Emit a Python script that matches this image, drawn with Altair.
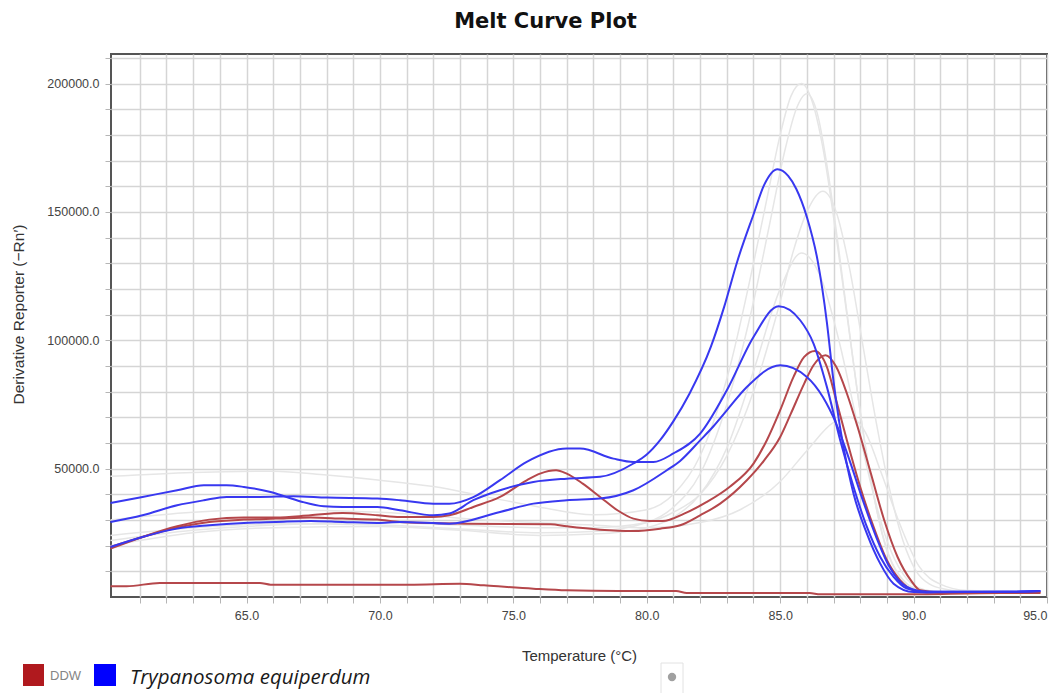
import altair as alt
import pandas as pd

# ---------------- data ----------------
blue_a_t = [59.9, 61.1, 62.4, 63.4, 64.25, 64.9, 65.9, 66.5, 67.1, 67.9, 68.6, 69.9, 70.75, 72.0, 72.6, 73.5, 74.5, 75.75, 77.0, 78.25, 79.5, 80.0, 80.5, 81.0, 81.6, 82.4, 82.9, 83.4, 84.0, 84.4, 84.9, 85.3, 85.6, 86.0, 86.4, 86.75, 87.0, 87.2, 87.4, 87.75, 88.25, 88.75, 89.25, 90.0, 90.5, 92.0, 93.5, 94.75]
blue_a_v = [36600, 38980, 41570, 43520, 43520, 42870, 40920, 38980, 37030, 35340, 35080, 35080, 33800, 31800, 32500, 37700, 41600, 44800, 46100, 46800, 52000, 55500, 61100, 68500, 79200, 97400, 113000, 131000, 149000, 160500, 166600, 164000, 159000, 148000, 131200, 107000, 84000, 69000, 57000, 40200, 24700, 13000, 5200, 1900, 1800, 1900, 2000, 2300]

blue_b_t = [59.9, 61.1, 62.4, 63.4, 64.25, 65.5, 66.75, 68.0, 69.9, 70.75, 72.0, 72.6, 73.5, 74.5, 75.5, 77.0, 77.5, 78.75, 79.5, 80.25, 81.0, 82.0, 83.0, 84.0, 84.94, 85.75, 86.25, 86.75, 87.25, 87.75, 88.25, 88.75, 89.25, 89.75, 90.5, 92.0, 93.5, 94.75]
blue_b_v = [29220, 31820, 35720, 37670, 38980, 38980, 39240, 38720, 38330, 37700, 36300, 36300, 38900, 45500, 52600, 57800, 57800, 53900, 52600, 52600, 55900, 63600, 80500, 101300, 113260, 107800, 98700, 81840, 61060, 42870, 27280, 15590, 7800, 3250, 2000, 2000, 2000, 2300]

blue_c_t = [59.9, 61.1, 62.4, 63.6, 64.9, 66.1, 67.4, 68.6, 69.9, 70.75, 72.6, 74.5, 75.75, 77.0, 78.25, 79.5, 80.75, 81.25, 82.0, 82.5, 83.0, 83.75, 85.0, 86.0, 86.6, 87.1, 87.6, 88.1, 88.6, 89.1, 89.75, 90.5, 92.0, 93.5, 94.75]
blue_c_v = [19480, 23380, 26630, 27930, 28840, 29220, 29610, 29220, 28840, 29220, 28570, 33120, 36370, 37670, 38330, 41570, 49360, 53000, 61000, 66500, 72700, 81800, 90270, 85720, 77920, 67530, 53240, 37650, 23360, 11670, 3900, 2000, 2000, 2000, 2300]

red_a_t = [59.9, 61.1, 62.4, 63.6, 64.9, 66.1, 67.4, 68.6, 69.9, 70.75, 72.0, 72.6, 73.5, 74.5, 75.5, 76.0, 76.6, 77.0, 77.6, 78.25, 78.9, 79.5, 80.1, 80.6, 81.4, 82.25, 83.1, 84.0, 84.5, 85.0, 85.5, 85.9, 86.3, 86.75, 87.1, 87.5, 88.0, 88.5, 89.0, 89.5, 90.0, 90.5, 92.0, 94.75]
red_a_v = [18850, 23380, 27540, 30140, 30920, 30920, 31830, 32740, 31830, 31170, 31170, 31820, 35080, 38980, 45470, 48070, 49370, 48070, 44170, 38980, 33780, 30530, 29620, 29620, 32480, 37030, 42870, 51970, 61060, 72760, 85720, 93500, 95840, 89660, 76670, 61060, 42870, 27280, 14290, 6490, 2600, 1800, 1800, 1800]

red_b_t = [59.9, 62.4, 63.6, 64.9, 66.1, 67.4, 68.6, 69.9, 70.75, 73.25, 76.4, 77.0, 78.25, 79.5, 80.5, 81.25, 82.0, 82.75, 83.75, 84.4, 85.0, 85.4, 85.9, 86.25, 86.7, 87.1, 87.5, 87.9, 88.4, 88.9, 89.4, 89.9, 90.25, 91.0, 92.5, 94.75]
red_b_v = [19480, 27010, 29220, 30140, 30530, 30920, 30530, 30140, 29220, 28570, 28310, 27530, 26230, 25720, 26620, 27920, 31820, 36360, 45450, 53240, 62340, 71430, 83120, 90270, 94170, 89660, 79270, 66280, 48090, 29900, 15590, 6490, 2600, 1800, 1800, 1800]

red_c_t = [59.9, 60.5, 61.75, 65.5, 65.9, 71.1, 73.0, 73.9, 75.75, 77.0, 78.9, 81.1, 81.5, 86.1, 86.5, 89.5, 93.25, 94.75]
red_c_v = [4170, 4170, 5470, 5470, 4820, 4820, 5200, 4550, 3250, 2600, 2340, 2340, 1560, 1560, 1040, 1040, 1560, 1560]

gray_a_t = [59.9, 63, 66, 68, 70, 72, 74, 76, 78, 80, 81, 82, 83, 84, 84.5, 85, 85.4, 85.8, 86.2, 86.6, 87, 87.5, 88, 88.5, 89, 89.5, 90, 90.5, 91, 94.75]
gray_a_v = [47000, 48500, 49000, 47500, 45500, 43000, 39000, 35000, 32000, 34000, 40000, 55000, 85000, 130000, 155000, 180000, 195000, 200000, 193000, 175000, 148000, 110000, 72000, 40000, 18000, 8000, 3500, 2500, 2000, 2000]

gray_b_t = [59.9, 63, 66, 70, 73, 76, 78, 80, 81, 82, 83, 84, 84.6, 85.2, 85.6, 86.0, 86.4, 86.8, 87.2, 87.7, 88.2, 88.7, 89.2, 89.7, 90.2, 91, 94.75]
gray_b_v = [24000, 27000, 28500, 28000, 26500, 25000, 25500, 29000, 35000, 48000, 75000, 115000, 145000, 175000, 190000, 196000, 188000, 165000, 135000, 95000, 58000, 30000, 13000, 5500, 3000, 2000, 2000]

gray_c_t = [59.9, 63, 66, 70, 73, 76, 78, 80, 81, 82, 83, 84, 85, 85.5, 86.0, 86.6, 87.1, 87.6, 88.1, 88.6, 89.1, 89.6, 90.1, 90.6, 91.2, 92, 94.75]
gray_c_v = [22000, 26000, 28000, 29000, 28000, 27000, 27000, 29000, 33000, 40000, 55000, 80000, 115000, 135000, 150000, 158000, 150000, 128000, 98000, 68000, 42000, 22000, 10000, 5000, 3000, 2000, 2000]

gray_d_t = [59.9, 63, 66, 70, 73, 76, 78, 80, 81, 82, 83, 84, 85, 85.8, 86.5, 87.2, 87.8, 88.4, 89, 89.6, 90.2, 91, 94.75]
gray_d_v = [20000, 25000, 27000, 27500, 26000, 24000, 24500, 27000, 31000, 40000, 58000, 88000, 120000, 134000, 125000, 100000, 72000, 44000, 22000, 9000, 3500, 2000, 2000]

gray_e_t = [59.9, 63, 66, 70, 74, 78, 80, 82, 83.5, 85, 86, 87, 87.6, 88.2, 88.8, 89.5, 90.2, 91, 92, 94.75]
gray_e_v = [30000, 33000, 34000, 33000, 30000, 28000, 27000, 29000, 34000, 45000, 57000, 68000, 70000, 64000, 48000, 28000, 12000, 5000, 2500, 2000]

x_ticks = list(range(61, 96))
y_ticks = list(range(10000, 211000, 10000))

curves = [
    ("g1", "gray", gray_a_t, gray_a_v),
    ("g2", "gray", gray_b_t, gray_b_v),
    ("g3", "gray", gray_c_t, gray_c_v),
    ("g4", "gray", gray_d_t, gray_d_v),
    ("g5", "gray", gray_e_t, gray_e_v),
    ("r1", "DDW", red_a_t, red_a_v),
    ("r2", "DDW", red_b_t, red_b_v),
    ("r3", "DDW", red_c_t, red_c_v),
    ("b1", "Tryp", blue_a_t, blue_a_v),
    ("b2", "Tryp", blue_b_t, blue_b_v),
    ("b3", "Tryp", blue_c_t, blue_c_v),
]
rows = []
for name, grp, ts, vs in curves:
    for i, (t, v) in enumerate(zip(ts, vs)):
        rows.append({"curve": name, "group": grp, "t": t, "v": v, "i": i})
df = pd.DataFrame(rows)

W, H = 936, 543

x_enc = alt.X(
    "t:Q",
    scale=alt.Scale(domain=[59.92, 95.0], nice=False, zero=False),
    axis=alt.Axis(
        values=x_ticks,
        labelExpr="datum.value % 5 === 0 ? format(datum.value, '.1f') : ''",
        title="Temperature (°C)",
        titleY=58,
        titleBaseline="middle",
        titleFontSize=15,
        labelPadding=6,
    ),
)
y_enc = alt.Y(
    "v:Q",
    scale=alt.Scale(domain=[0, 211500], nice=False, zero=False),
    axis=alt.Axis(
        values=y_ticks,
        labelExpr="datum.value % 50000 === 0 ? format(datum.value, '.1f') : ''",
        title="Derivative Reporter (−Rn′)",
        titleX=-93,
        titleY=260,
        titleBaseline="middle",
        titleAngle=-90,
        titleFontSize=15.5,
        labelPadding=6,
    ),
)

base = alt.Chart(df).encode(x=x_enc, y=y_enc, detail="curve:N", order="i:Q")

gray = base.transform_filter(alt.datum.group == "gray").mark_line(
    color="#e6e6e6", strokeWidth=1.5, interpolate="monotone")
red = base.transform_filter(alt.datum.group == "DDW").mark_line(
    color="#b5474b", strokeWidth=2, interpolate="monotone")
blue = base.transform_filter(alt.datum.group == "Tryp").mark_line(
    color="#3838f0", strokeWidth=2, interpolate="monotone")

one = pd.DataFrame({"k": [0]})
deco = alt.Chart(one)
title = deco.mark_text(text="Melt Curve Plot", font="DejaVu Sans", fontWeight="bold",
                       fontSize=21, color="#111", align="center", baseline="middle").encode(
    x=alt.value(434.5), y=alt.value(-32))
red_sq = deco.mark_rect(color="#b0191e").encode(
    x=alt.value(-88), x2=alt.value(-67), y=alt.value(610), y2=alt.value(632))
ddw = deco.mark_text(text="DDW", font="Liberation Sans", fontSize=13, color="#858585",
                     align="left", baseline="middle").encode(x=alt.value(-61), y=alt.value(622))
blue_sq = deco.mark_rect(color="#0000ff").encode(
    x=alt.value(-17), x2=alt.value(5), y=alt.value(610), y2=alt.value(632))
tryp = deco.mark_text(text="Trypanosoma equiperdum", font="Open Sans", fontStyle="italic",
                      fontSize=20.5, color="#1a1a1a", align="left", baseline="middle").encode(
    x=alt.value(19), y=alt.value(624))
box = deco.mark_rect(fill="white", stroke="#e2e2e2", strokeWidth=1).encode(
    x=alt.value(550), x2=alt.value(572), y=alt.value(609), y2=alt.value(645))
dot = deco.mark_point(filled=True, color="#a0a0a0", size=70, opacity=1).encode(
    x=alt.value(561), y=alt.value(623))

chart = alt.layer(gray, red, blue, title, red_sq, ddw, blue_sq, tryp, box, dot).properties(
    width=W, height=H,
    autosize=alt.AutoSizeParams(type="none"),
    padding={"left": 111, "top": 54, "right": 15, "bottom": 96},
    background="white",
).configure_view(
    stroke="#555555", strokeWidth=2
).configure_axis(
    domain=False,
    grid=True,
    gridColor="#d5d5d5",
    gridWidth=1.5,
    tickColor="#b5b5b5",
    tickSize=6,
    labelFont="Liberation Sans",
    labelFontSize=12.5,
    labelColor="#444444",
    titleFont="Liberation Sans",
    titleFontWeight="normal",
    titleColor="#333333",
)

chart.save("out.html", embed_options={"renderer": "svg", "actions": False})
